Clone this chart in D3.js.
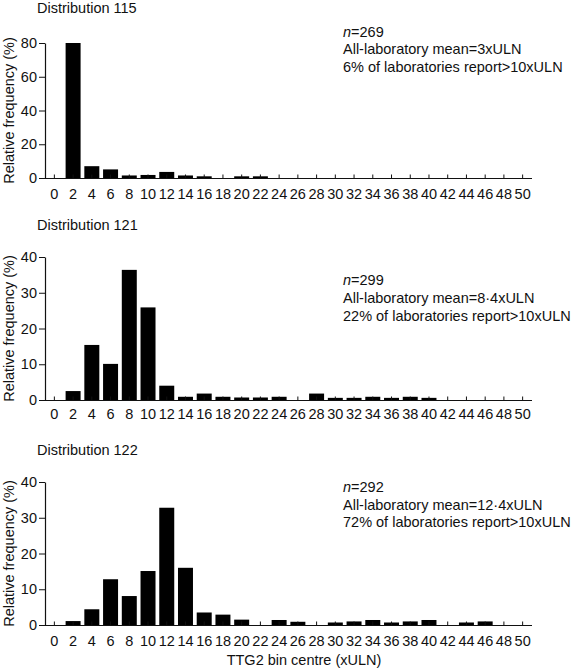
<!DOCTYPE html>
<html><head><meta charset="utf-8">
<script src="https://cdn.jsdelivr.net/npm/d3@7"></script>
<style>
html,body{margin:0;padding:0;background:#fff;}
text{font-family:"Liberation Sans",Arial,Helvetica,sans-serif;fill:#111;}
</style></head>
<body>
<svg id="chart" width="576" height="669"></svg>
<script>
// ---- data ----
const bins = [0,2,4,6,8,10,12,14,16,18,20,22,24,26,28,30,32,34,36,38,40,42,44,46,48,50];
const titles = ["Distribution 115","Distribution 121","Distribution 122"];
const nValues = ["269","299","292"];
const meanValues = ["3","8·4","12·4"];
const pctAbove10 = ["6","22","72"];
const freq115 = [0,80,7,5.1,1.5,1.8,3.6,1.5,1,0,1,1,0,0,0,0,0,0,0,0,0,0,0,0,0,0];
const freq121 = [0,2.5,15.4,10.1,36.4,25.9,4,0.9,1.8,0.9,0.7,0.7,0.9,0,1.8,0.6,0.6,0.9,0.6,0.9,0.6,0,0,0,0,0];
const freq122 = [0,1.1,4.4,12.8,8.1,15.1,32.8,16,3.5,2.9,1.5,0,1.4,0.9,0,0.7,1,1.4,0.7,1,1.4,0,0.7,1,0,0];
const yMax = [80,40,40];
const yTicks = [[0,20,40,60,80],[0,10,20,30,40],[0,10,20,30,40]];
const yLabel = "Relative frequency (%)";
const xLabel = "TTG2 bin centre (xULN)";

// ---- layout ----
const series = [freq115, freq121, freq122];
const panels = [
  {top:43, bottom:178, titleY:13, textY:[37,54,72], xlabOff:19},
  {top:257, bottom:400, titleY:230, textY:[285,303,321], xlabOff:17},
  {top:482, bottom:625, titleY:455, textY:[491.5,510,527], xlabOff:19}
];
const left = 45, right = 532, fs = 14.5;
const svg = d3.select("#chart");
const x = d3.scaleBand().domain(bins).range([left,right]).paddingInner(0.2).paddingOuter(0.1);

panels.forEach((p,i)=>{
  const y = d3.scaleLinear().domain([0,yMax[i]]).range([p.bottom,p.top]);
  const g = svg.append("g");
  // bars
  g.selectAll("rect").data(bins.map((b,j)=>({b,v:series[i][j]})).filter(d=>d.v>0))
    .enter().append("rect")
    .attr("x",d=>x(d.b)).attr("width",x.bandwidth())
    .attr("y",d=>y(d.v)).attr("height",d=>y(0)-y(d.v))
    .attr("fill","#000");
  // x axis (ticks inward)
  const xa = g.append("g").attr("transform",`translate(0,${p.bottom})`)
    .call(d3.axisBottom(x).tickSizeInner(-3.5).tickSizeOuter(0).tickPadding(p.xlabOff-8));
  xa.select(".domain").attr("d",`M${left},0.5H${right}`).attr("stroke","#111").attr("stroke-width",1.2);
  xa.selectAll(".tick line").attr("stroke","#111");
  xa.selectAll("text").attr("font-size",fs).attr("fill","#111").attr("font-family","Liberation Sans, Arial, sans-serif");
  // y axis
  const ya = g.append("g").attr("transform",`translate(${left},0)`)
    .call(d3.axisLeft(y).tickValues(yTicks[i]).tickSizeInner(6).tickSizeOuter(0).tickPadding(2));
  ya.select(".domain").attr("stroke","#111").attr("stroke-width",1.2);
  ya.selectAll(".tick line").attr("stroke","#111");
  ya.selectAll("text").attr("font-size",fs).attr("fill","#111").attr("font-family","Liberation Sans, Arial, sans-serif");
  // title
  svg.append("text").attr("x",37).attr("y",p.titleY).attr("font-size",fs).text(titles[i]);
  // y label
  svg.append("text").attr("transform",`translate(14,${(p.top+p.bottom)/2}) rotate(-90)`)
    .attr("text-anchor","middle").attr("font-size",fs).text(yLabel);
  // stats text
  const t1 = svg.append("text").attr("x",343).attr("y",p.textY[0]).attr("font-size",fs);
  t1.append("tspan").attr("font-style","italic").text("n");
  t1.append("tspan").text("=" + nValues[i]);
  svg.append("text").attr("x",343).attr("y",p.textY[1]).attr("font-size",fs)
    .text(`All-laboratory mean=${meanValues[i]}xULN`);
  svg.append("text").attr("x",343).attr("y",p.textY[2]).attr("font-size",fs)
    .text(`${pctAbove10[i]}% of laboratories report>10xULN`);
});
svg.append("text").attr("x",304).attr("y",665).attr("text-anchor","middle").attr("font-size",fs).text(xLabel);
</script>
</body></html>
